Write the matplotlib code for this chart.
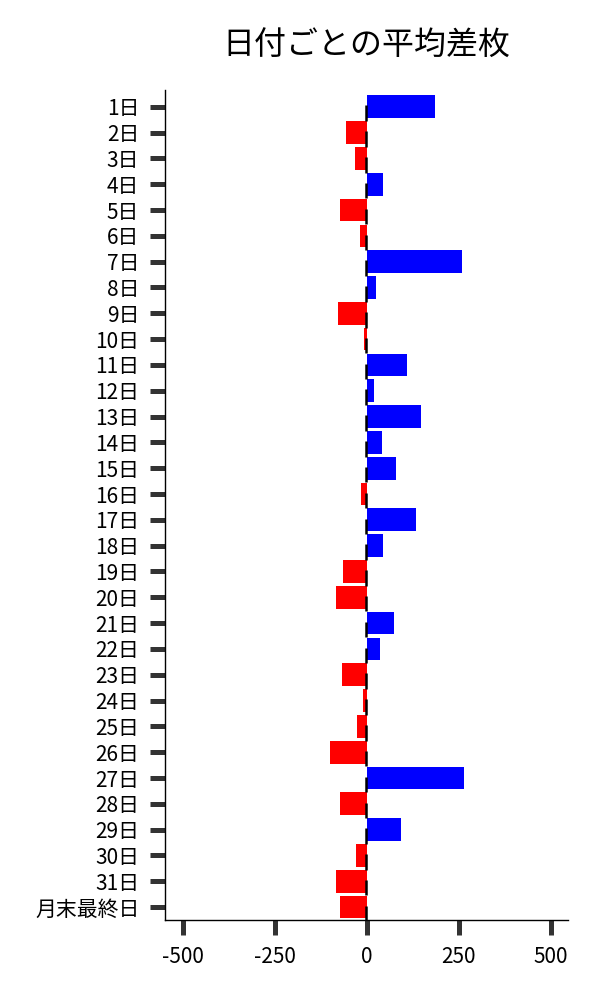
import numpy as np
import matplotlib
matplotlib.use("Agg")
import matplotlib.pyplot as plt

plt.rcParams['font.family'] = ['Noto Sans CJK JP', 'DejaVu Sans']

# 日付ラベルと平均差枚
days = [f"{d}日" for d in range(1, 32)] + ["月末最終日"]
avg_diff = [185, -57, -33, 43, -73, -19, 260, 25, -79, -7,
            108, 19, 146, 40, 79, -16, 133, 43, -65, -84,
            73, 36, -68, -10, -27, -100, 263, -73, 94, -30,
            -84, -73]
xticks = [-500, -250, 0, 250, 500]

fig, ax = plt.subplots(figsize=(6, 10), dpi=100)
fig.subplots_adjust(left=0.275, right=0.947, top=0.91, bottom=0.08)

y = np.arange(len(days))
colors = ['#0000ff' if v >= 0 else '#ff0000' for v in avg_diff]
ax.barh(y, avg_diff, height=0.88, color=colors)
# zero markers drawn next to each bar
ax.vlines(np.zeros(len(days)) - 1.5, y - 0.05, y + 0.55, color='black', lw=1.8)

ax.set_yticks(y)
ax.set_yticklabels(days, fontsize=15)
ax.set_xticks(xticks)
ax.set_xticklabels([str(t) for t in xticks], fontsize=15)
ax.set_xlim(-550, 548)
ax.set_ylim(len(days) - 0.5, -0.65)

for s in ['top', 'right']:
    ax.spines[s].set_visible(False)
for s in ['left', 'bottom']:
    ax.spines[s].set_linewidth(1.0)
    ax.spines[s].set_color('black')

ax.tick_params(axis='both', length=11, width=3.6, color='#333333', pad=7.5)
ax.set_title('日付ごとの平均差枚', fontsize=23, pad=25)

fig.savefig('out.png')
